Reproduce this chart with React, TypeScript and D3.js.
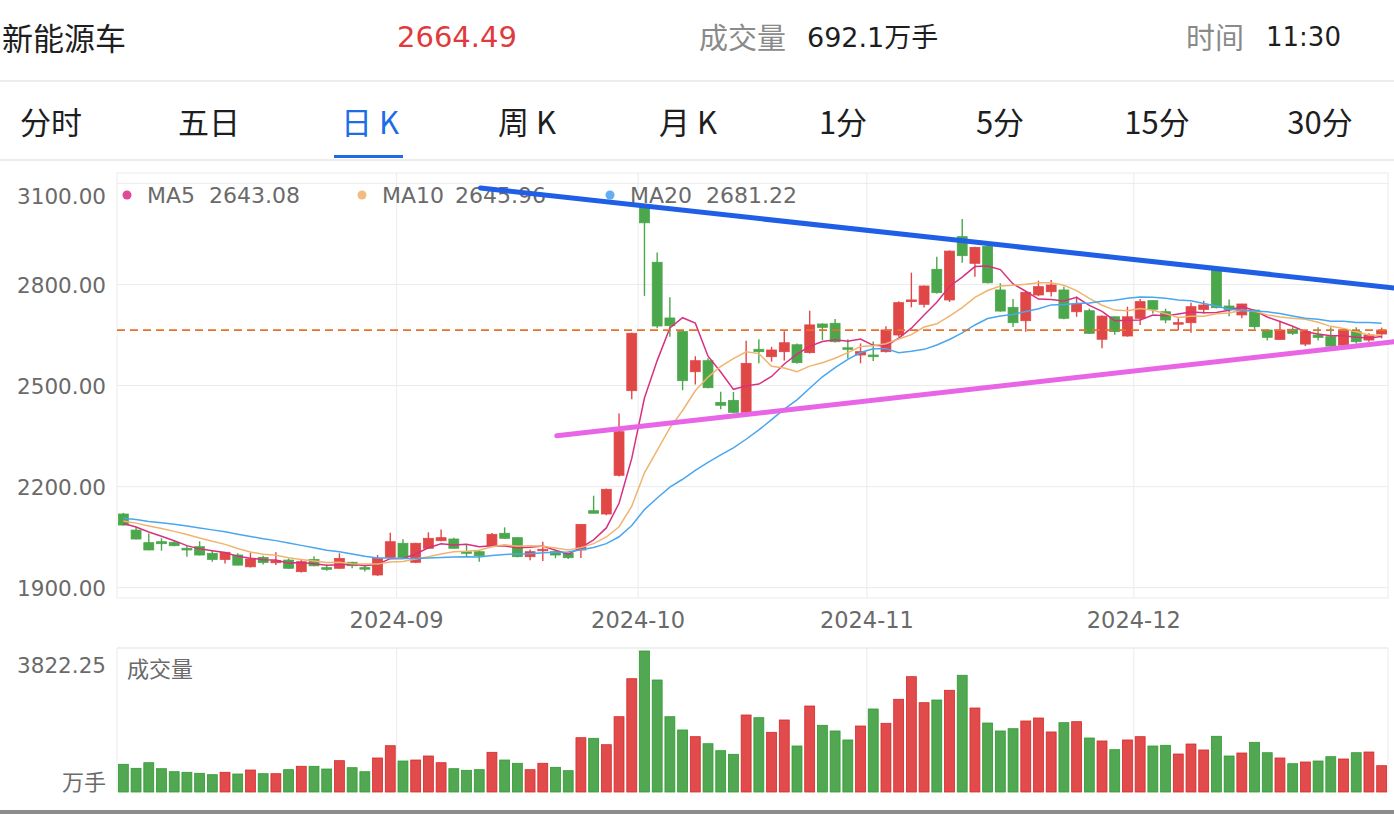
import React, { useEffect } from "react";
import * as d3 from "d3";

// ---- data ----
const opens = [2118.7, 2071, 2033.6, 2036.5, 2034.7, 2017, 2021.7, 2002, 1984, 1997,
  1962, 1990, 1974, 1982, 1947.5, 1984, 1959.4, 1957.6, 1975.4, 1959.4,
  1937.7, 1990, 2031.8, 1975.4, 2017, 2039.5, 2044.5, 2006.8, 2006.8, 2024.7,
  2061.5, 2048.4, 1992, 2009.8, 2006.8, 2002, 2012, 2128.5, 2118.7, 2233.6,
  2484.7, 3030, 2865.8, 2700.5, 2660, 2541, 2573.7, 2450, 2456, 2420.6,
  2607.5, 2585.6, 2600.5, 2621, 2597.6, 2682.6, 2684.7, 2612, 2590.6, 2590.6,
  2600.5, 2650, 2749, 2741, 2845, 2754, 2941.8, 2862.8, 2913, 2783.6,
  2732, 2692.4, 2768.8, 2778.5, 2783.6, 2719, 2722, 2637.3, 2704, 2647,
  2699.6, 2752, 2719, 2682.6, 2686.5, 2726, 2843, 2736, 2709.5, 2724,
  2664.8, 2637, 2667, 2623, 2650, 2645, 2620, 2660, 2635, 2653];

const closes = [2086, 2044.5, 2012, 2030.6, 2024.7, 2012, 1997, 1984, 2005, 1967,
  1985, 1975, 1980, 1957.6, 1977, 1965, 1954.6, 1987, 1965.3, 1955.5,
  1987, 2036.5, 1990, 2031.8, 2046.6, 2048.4, 2017, 2002, 1995, 2058.4,
  2046.6, 1992, 2006.8, 2014, 1997, 1989, 2088, 2121, 2192, 2363,
  2655, 2983, 2676.7, 2677.6, 2514.4, 2573.7, 2493.6, 2441.4, 2420.6, 2565.8,
  2600.5, 2605.5, 2627, 2568, 2680, 2672.8, 2630, 2607.5, 2600.5, 2585.6,
  2665, 2746, 2754, 2795.4, 2775.6, 2899, 2885.4, 2910, 2805, 2721,
  2686.5, 2776.7, 2793.4, 2798.4, 2699.6, 2742, 2655, 2706, 2660, 2704,
  2749, 2726.3, 2694.5, 2686.5, 2734, 2739, 2731, 2726, 2742, 2674.7,
  2643, 2664.8, 2655, 2660, 2643, 2617, 2665, 2630, 2650, 2664.49];

const highs = [2122, 2081, 2061, 2046.6, 2039.5, 2023.8, 2037.7, 2009, 2006, 2002,
  2004, 1995, 2005, 1987, 1982, 1993, 1968, 2002, 1977, 1966,
  1997, 2063, 2043.6, 2033, 2064.4, 2073, 2048, 2026.7, 2009, 2062,
  2079, 2050, 2013.7, 2036.5, 2010, 2004, 2089, 2173, 2194, 2417,
  2657, 3032, 2895, 2762, 2662, 2587, 2580.8, 2481.7, 2481, 2633,
  2637, 2615, 2661, 2625, 2722, 2685, 2697.5, 2637, 2625, 2631,
  2676, 2750, 2835, 2797, 2882.4, 2901, 2994, 2912, 2915, 2803.5,
  2757, 2778, 2811, 2813, 2793, 2764, 2728, 2708, 2706, 2734,
  2757, 2754, 2728, 2699.6, 2746, 2752, 2846, 2755, 2743, 2726,
  2666, 2692.5, 2673, 2665, 2673, 2673, 2668, 2673, 2655, 2672];

const lows = [2084, 2043, 2011, 2009.8, 2023, 1992, 1996, 1977, 1972, 1966,
  1960, 1969, 1967, 1956, 1945, 1964, 1950, 1956, 1958, 1948,
  1935, 1988, 1989, 1973, 2015, 2038, 2016, 1992, 1977, 2023,
  2045, 1990, 1981.6, 1979, 1987.6, 1985, 1988, 2121, 2115, 2230,
  2459, 2766, 2670, 2645, 2486, 2503, 2492, 2429.5, 2418, 2418,
  2566, 2570.8, 2574, 2565, 2595, 2635, 2628, 2580, 2566, 2572.7,
  2598, 2645, 2732, 2731.7, 2773, 2748, 2864.6, 2823, 2803, 2719,
  2673.7, 2660, 2765, 2764, 2697, 2704, 2653, 2610.5, 2651, 2645,
  2680, 2714, 2685, 2664, 2657, 2713.5, 2729, 2706, 2700, 2668,
  2634, 2635, 2650, 2617, 2634, 2615, 2618, 2625, 2630, 2640];

const volumes = [751, 642, 794, 632, 550, 534, 507, 469, 534, 488,
  596, 496, 496, 605, 697, 697, 623, 849, 659, 550,
  922, 1255, 840, 867, 976, 794, 632, 588, 605, 1076,
  867, 778, 605, 778, 669, 578, 1472, 1456, 1282, 2041,
  3071, 3822.25, 3036, 2041, 1681, 1500, 1309, 1120, 1022, 2087,
  2014, 1618, 1952, 1247, 2331, 1808, 1654, 1410, 1789, 2250,
  1862, 2513, 3126, 2421, 2494, 2757, 3164, 2277, 1870, 1654,
  1716, 1925, 2006, 1627, 1879, 1906, 1464, 1383, 1147, 1410,
  1500, 1247, 1266, 1030, 1301, 1139, 1510, 976, 1057, 1347,
  1065, 922, 767, 813, 840, 957, 895, 1065, 1084, 713];

// closes before the first visible day (estimated from where the MA lines start)
const priorCloses = [2118, 2125, 2110, 2105, 2120, 2108, 2102, 2115, 2112, 2118,
  2110, 2095, 2105, 2112, 2106, 2098, 2085, 2095, 2090];

const monthLabels = ["2024-09", "2024-10", "2024-11", "2024-12"];
const monthStartIdx = [22, 41, 59, 80];
const priceTicks = [1900, 2200, 2500, 2800, 3100];
const maPeriods = [5, 10, 20];
const maNames = ["MA5", "MA10", "MA20"];
const maValueTexts = ["2643.08", "2645.96", "2681.22"];
const tabs = ["分时", "五日", "日 K", "周 K", "月 K", "1分", "5分", "15分", "30分"];
const activeTab = 2;
const lastPrice = 2664.49;
const volMax = 3822.25;
// trend lines: [index, price] endpoints
const trendUpper = [[28.1, 3086], [100, 2789.5]];
const trendLower = [[34.1, 2351], [100, 2630]];

const FONT = "'DejaVu Sans', 'Noto Sans CJK SC', sans-serif";
const CJK = "'Noto Sans CJK SC', sans-serif";
const RED = "#e04747";
const GREEN = "#4ba74b";
const maColors = ["#d8307f", "#f0b46e", "#4aa6ef"];
const maDotColors = ["#e0489a", "#f2bc80", "#62aef2"];
const AX = "#6a6a6a";

export default function App() {
  useEffect(() => {
    document.body.style.margin = "0";
    document.body.style.overflow = "hidden";
  }, []);

  const W = 1394, H = 814;
  const L = 117, R = 1388;
  const n = closes.length;
  const x = d3.scaleBand<number>().domain(d3.range(n)).range([L, R]).paddingInner(0.22).paddingOuter(0.11);
  const bw = x.bandwidth();
  const cx = (i: number) => (x(i) as number) + bw / 2;
  const xf = d3.scaleLinear().domain([-0.5, n - 0.5]).range([L, R]);
  const pTop = 173, pBot = 598;
  const y = d3.scaleLinear().domain([1869.4, 3130.8]).range([pBot, pTop]);
  const vTop = 648, vBot = 792;
  const yv = d3.scaleLinear().domain([0, volMax]).range([vBot, 651]);

  const all = priorCloses.concat(closes);
  const off = priorCloses.length;
  const maSeries = maPeriods.map((p) =>
    closes.map((_, i) => d3.mean(all.slice(i + off - p + 1, i + off + 1)) as number)
  );
  const line = d3.line<number>().x((_, i) => cx(i)).y((d) => y(d));

  const tabCenters = [51, 209, 370, 527, 688, 843, 1000, 1157, 1320];
  const gridColor = "#ebebeb";

  return (
    <div style={{ position: "absolute", left: 0, top: 0 }}>
      <svg width={W} height={H} style={{ display: "block", fontFamily: FONT }}>
        <rect x={0} y={0} width={W} height={H} fill="#fff" />
        {/* header */}
        <text x={2} y={36} fontSize={31} fill="#1e1e1e" fontFamily={CJK} dominantBaseline="central">新能源车</text>
        <text x={397} y={37} fontSize={29} fill="#e03a3e" dominantBaseline="central">{lastPrice.toFixed(2)}</text>
        <text x={699} y={36} fontSize={29} fill="#8a8a8a" fontFamily={CJK} dominantBaseline="central">成交量</text>
        <text x={807} y={37} fontSize={27} fill="#1e1e1e" dominantBaseline="central">692.1万手</text>
        <text x={1186} y={36} fontSize={29} fill="#8a8a8a" fontFamily={CJK} dominantBaseline="central">时间</text>
        <text x={1266} y={37} fontSize={26} fill="#1e1e1e" dominantBaseline="central">11:30</text>
        <rect x={0} y={80} width={W} height={2} fill="#ededed" />
        {/* tabs */}
        {tabs.map((t, i) => (
          <text key={t} x={tabCenters[i]} y={120} fontSize={31} textAnchor="middle" dominantBaseline="central"
            fontFamily={CJK} fill={i === activeTab ? "#1c6ce8" : "#1e1e1e"}>{t}</text>
        ))}
        <rect x={334} y={155} width={69} height={3} fill="#1c6ce8" />
        <rect x={0} y={159} width={W} height={2} fill="#ededed" />

        {/* price panel frame and grid */}
        <rect x={L} y={pTop} width={R - L} height={pBot - pTop} fill="none" stroke={gridColor} strokeWidth={1} />
        {priceTicks.map((t) => (
          <line key={t} x1={L} x2={R} y1={y(t)} y2={y(t)} stroke={gridColor} strokeWidth={1} />
        ))}
        {monthStartIdx.map((m) => (
          <g key={m}>
            <line x1={xf(m - 0.5)} x2={xf(m - 0.5)} y1={pTop} y2={pBot} stroke={gridColor} strokeWidth={1} />
            <line x1={xf(m - 0.5)} x2={xf(m - 0.5)} y1={vTop} y2={vBot} stroke={gridColor} strokeWidth={1} />
          </g>
        ))}
        {priceTicks.map((t, i) => (
          <text key={"l" + t} x={106} y={i === priceTicks.length - 1 ? y(t) + 13 : y(t) + 1} fontSize={21.5}
            fill={AX} textAnchor="end" dominantBaseline="central">{t.toFixed(2)}</text>
        ))}
        {monthLabels.map((m, i) => (
          <text key={m} x={xf(monthStartIdx[i] - 0.5)} y={620} fontSize={22.5} fill={AX} textAnchor="middle"
            dominantBaseline="central">{m}</text>
        ))}

        {/* candles */}
        {closes.map((c, i) => {
          const o = opens[i];
          const up = c >= o;
          const col = up ? RED : GREEN;
          const top = y(Math.max(o, c));
          const bot = y(Math.min(o, c));
          return (
            <g key={i}>
              <line x1={cx(i)} x2={cx(i)} y1={y(highs[i])} y2={y(lows[i])} stroke={col} strokeWidth={1.4} />
              <rect x={x(i)} y={top} width={bw} height={Math.max(1.5, bot - top)} fill={col} stroke={col} strokeWidth={0.8} />
            </g>
          );
        })}

        {/* moving averages */}
        {maSeries.map((s, k) => (
          <path key={k} d={line(s) as string} fill="none" stroke={maColors[k]} strokeWidth={1.5} />
        ))}

        {/* last price dashed line */}
        <line x1={L} x2={R} y1={y(lastPrice)} y2={y(lastPrice)} stroke="#e8702a" strokeWidth={1.6} strokeDasharray="8,5" />

        {/* legend */}
        {maNames.map((nm, k) => {
          const bx = [127, 362, 610][k];
          return (
            <g key={nm}>
              <circle cx={bx} cy={195} r={4.5} fill={maDotColors[k]} />
              <text x={bx + 20} y={195} fontSize={22} fill={AX} dominantBaseline="central">{nm}</text>
              <text x={bx + [82, 93, 96][k]} y={195} fontSize={22} fill={AX} dominantBaseline="central">{maValueTexts[k]}</text>
            </g>
          );
        })}

        {/* trend lines */}
        <line x1={xf(trendUpper[0][0])} y1={y(trendUpper[0][1])} x2={xf(trendUpper[1][0])} y2={y(trendUpper[1][1])}
          stroke="#1f5fe6" strokeWidth={5} strokeLinecap="round" />
        <line x1={xf(trendLower[0][0])} y1={y(trendLower[0][1])} x2={xf(trendLower[1][0])} y2={y(trendLower[1][1])}
          stroke="#e865e6" strokeWidth={5} strokeLinecap="round" />

        {/* volume panel */}
        <line x1={L} x2={R} y1={vTop} y2={vTop} stroke={gridColor} strokeWidth={1.5} />
        <line x1={L} x2={L} y1={vTop} y2={vBot} stroke={gridColor} strokeWidth={1} />
        <line x1={R} x2={R} y1={vTop} y2={vBot} stroke={gridColor} strokeWidth={1} />
        {volumes.map((v, i) => {
          const up = closes[i] >= opens[i];
          return (
            <rect key={i} x={x(i)} y={yv(v)} width={bw} height={vBot - yv(v)}
              fill={up ? "#e24b4b" : "#52a852"} stroke={up ? "#d42a2a" : "#2f9a2f"} strokeWidth={0.8} />
          );
        })}
        <text x={127} y={667} fontSize={22} fill={AX} fontFamily={CJK} dominantBaseline="central">成交量</text>
        <text x={106} y={665} fontSize={21.5} fill={AX} textAnchor="end" dominantBaseline="central">{volMax.toFixed(2)}</text>
        <text x={106} y={780} fontSize={22} fill={AX} fontFamily={CJK} textAnchor="end" dominantBaseline="central">万手</text>

        <rect x={0} y={810} width={W} height={4} fill="#8c8c8c" />
      </svg>
    </div>
  );
}
